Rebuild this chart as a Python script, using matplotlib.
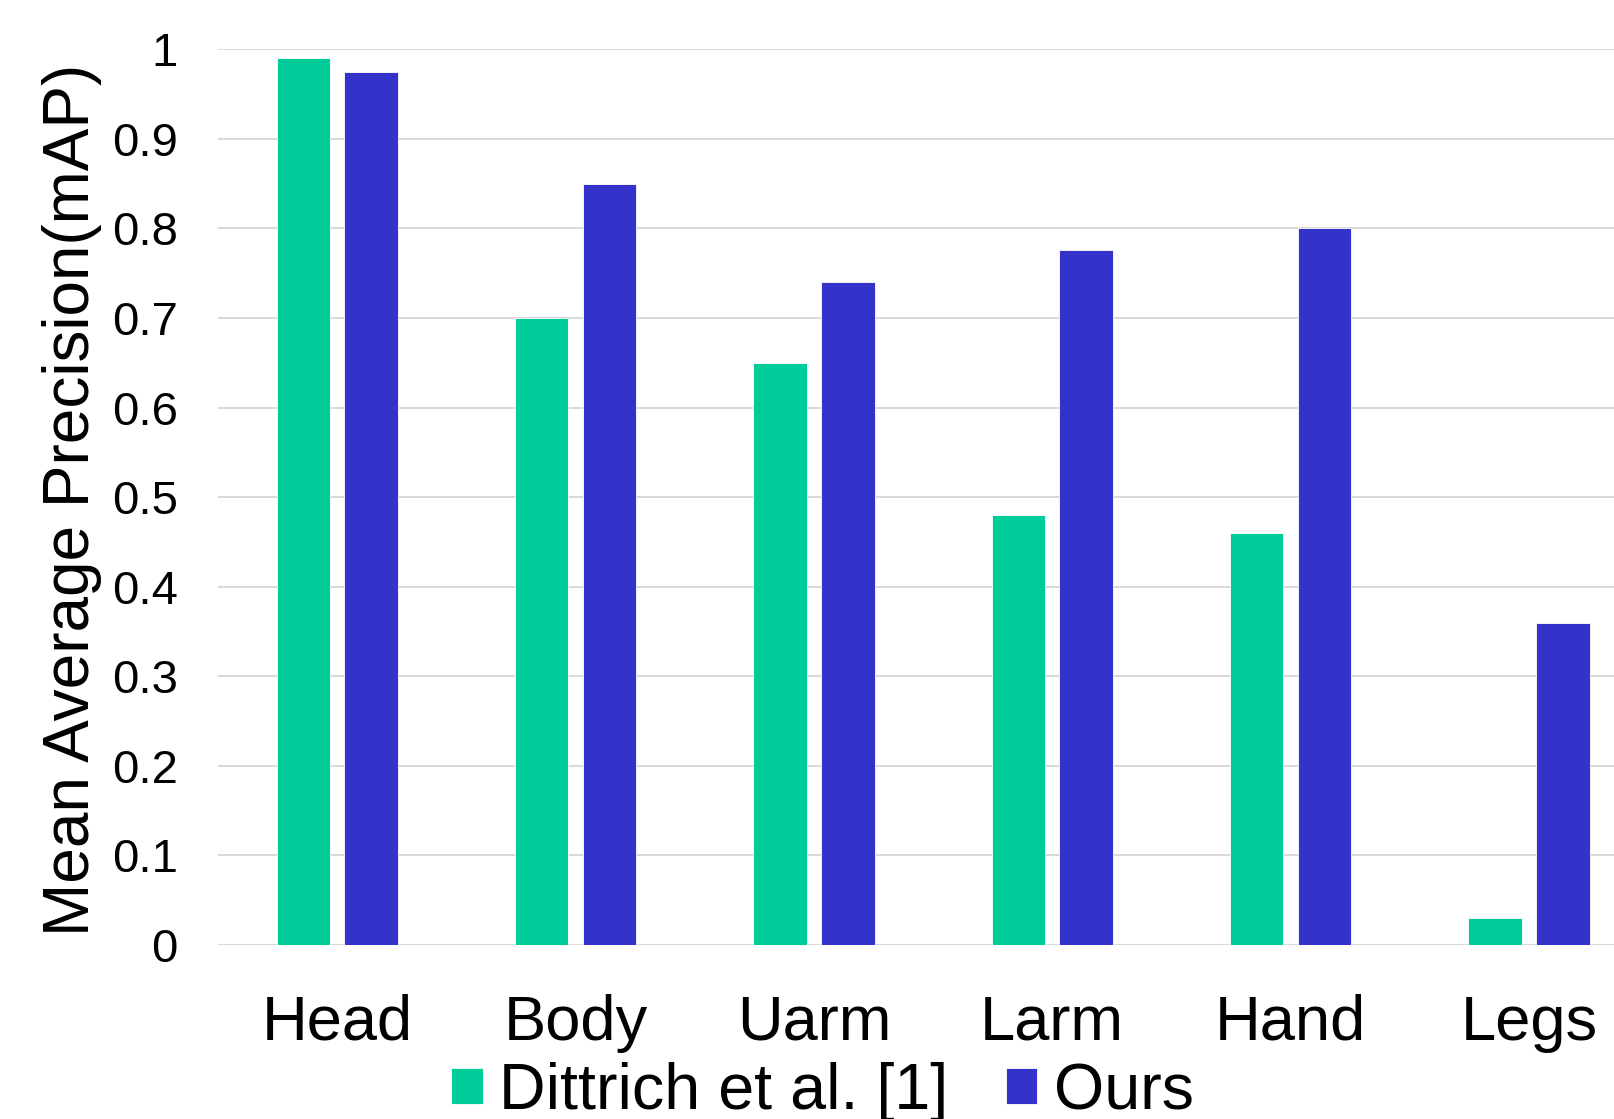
import matplotlib
matplotlib.use("Agg")
import matplotlib.pyplot as plt
import numpy as np

# Per-part mean average precision
parts = ["Head", "Body", "Uarm", "Larm", "Hand", "Legs"]
dittrich = [0.99, 0.70, 0.65, 0.48, 0.46, 0.03]
ours = [0.975, 0.85, 0.74, 0.776, 0.80, 0.36]
series_names = ["Dittrich et al. [1]", "Ours"]
y_ticks = [0, 0.1, 0.2, 0.3, 0.4, 0.5, 0.6, 0.7, 0.8, 0.9, 1]
y_tick_labels = ["0", "0.1", "0.2", "0.3", "0.4", "0.5", "0.6", "0.7", "0.8", "0.9", "1"]

GREEN = "#00CC99"
BLUE = "#3333CC"
GRID = "#D9D9D9"

plt.rcParams["font.family"] = ["Liberation Sans", "DejaVu Sans"]

fig = plt.figure(figsize=(16.14, 11.19), dpi=100)
# plot area runs past the right edge of the figure
ax = fig.add_axes([0.1351, 0.1555, 0.886, 0.8004])

x = np.arange(len(parts))
width = 0.2245
offset = 0.1425
b1 = ax.bar(x - offset, dittrich, width, color=GREEN, edgecolor="white",
            linewidth=0.6, zorder=3, label=series_names[0])
b2 = ax.bar(x + offset, ours, width, color=BLUE, edgecolor="white",
            linewidth=0.6, zorder=3, label=series_names[1])

ax.set_xlim(-0.5, len(parts) - 0.5)
ax.set_ylim(0, 1)
ax.set_yticks(y_ticks)
ax.set_yticklabels(y_tick_labels, fontsize=34)
ax.set_xticks(x)
ax.set_xticklabels(parts, fontsize=45.5)
ax.tick_params(axis="y", length=0, pad=29)
ax.tick_params(axis="x", length=0, pad=35)

ax.yaxis.grid(True, color=GRID, linewidth=1.4, zorder=0)
ax.set_axisbelow(True)
for s in ax.spines.values():
    s.set_visible(False)

fig.text(0.0446, 0.553, "Mean Average Precision(mAP)", rotation=90,
         fontsize=46, ha="center", va="center")

fig.legend(handles=[b1, b2], labels=series_names, loc="center",
           bbox_to_anchor=(0.5096, 0.024), ncol=2, frameon=False,
           fontsize=46.5, handlelength=0.49, handleheight=0.49,
           handletextpad=0.26, columnspacing=0.88, borderpad=0,
           borderaxespad=0)

fig.savefig("out.png", dpi=100)
